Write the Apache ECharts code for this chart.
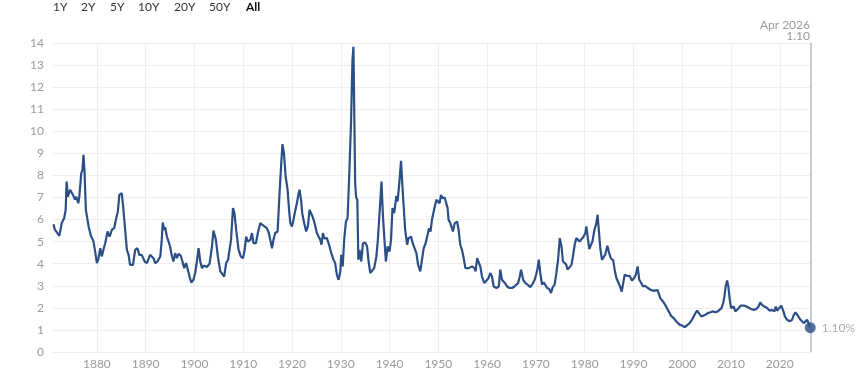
<!DOCTYPE html>
<html><head><meta charset="utf-8">
<script src="https://cdn.jsdelivr.net/npm/echarts@6/dist/echarts.min.js"></script>
<style>html,body{margin:0;padding:0;background:#fff}#c{width:864px;height:372px}</style>
</head><body><div id="c"></div>
<script>
const years = [1871.1,1871.4,1871.7,1872.3,1872.8,1873.3,1873.6,1873.8,1874.05,1874.5,1875.1,1875.5,1875.75,1876.2,1876.4,1876.8,1877.05,1877.25,1877.45,1877.75,1878.3,1878.8,1879.3,1879.65,1880.0,1880.3,1880.7,1881.0,1881.35,1881.7,1882.2,1882.6,1883.1,1883.55,1883.9,1884.3,1884.6,1884.9,1885.1,1885.45,1885.8,1886.15,1886.5,1886.8,1887.4,1887.85,1888.3,1888.7,1889.2,1889.8,1890.25,1890.45,1890.9,1891.3,1891.6,1891.95,1892.4,1893.0,1893.3,1893.5,1893.8,1894.0,1894.35,1894.7,1895.0,1895.4,1895.7,1896.05,1896.4,1896.75,1897.2,1897.55,1897.9,1898.3,1898.65,1899.0,1899.35,1899.8,1900.15,1900.5,1900.85,1901.2,1901.55,1901.9,1902.55,1903.1,1903.6,1903.9,1904.4,1904.8,1905.3,1905.7,1906.1,1906.5,1906.9,1907.5,1907.9,1908.2,1908.55,1909.05,1909.5,1909.95,1910.3,1910.6,1910.95,1911.45,1911.8,1912.1,1912.6,1913.0,1913.5,1913.95,1914.35,1914.85,1915.25,1915.55,1915.9,1916.2,1916.55,1917.05,1917.45,1917.8,1918.05,1918.35,1918.7,1919.1,1919.4,1919.65,1920.0,1920.3,1920.7,1921.0,1921.3,1921.55,1921.85,1922.1,1922.5,1922.9,1923.25,1923.6,1923.9,1924.2,1924.55,1924.8,1925.1,1925.45,1925.8,1926.05,1926.35,1926.6,1927.15,1927.6,1928.05,1928.5,1928.85,1929.2,1929.55,1929.9,1930.1,1930.4,1930.7,1931.05,1931.4,1931.75,1932.1,1932.4,1932.6,1932.75,1932.95,1933.15,1933.4,1933.6,1933.85,1934.2,1934.55,1935.0,1935.4,1935.7,1936.05,1936.4,1936.85,1937.3,1937.6,1937.95,1938.35,1938.65,1939.0,1939.25,1939.6,1940.0,1940.3,1940.6,1940.95,1941.4,1941.65,1942.0,1942.35,1942.6,1942.9,1943.2,1943.6,1943.9,1944.4,1944.75,1945.15,1945.5,1945.85,1946.3,1946.65,1947.0,1947.4,1947.7,1948.1,1948.4,1948.7,1949.2,1949.6,1949.95,1950.25,1950.55,1950.8,1951.3,1951.65,1951.9,1952.1,1952.45,1952.7,1953.0,1953.35,1953.85,1954.15,1954.5,1954.85,1955.2,1955.55,1955.9,1956.25,1956.55,1956.9,1957.4,1957.65,1957.95,1958.3,1958.6,1958.95,1959.45,1959.85,1960.3,1960.65,1961.0,1961.35,1961.9,1962.4,1962.7,1963.05,1963.55,1964.1,1964.6,1965.1,1965.6,1965.9,1966.35,1966.7,1966.95,1967.4,1967.85,1968.3,1968.85,1969.3,1969.75,1970.05,1970.35,1970.6,1970.9,1971.25,1971.6,1971.9,1972.3,1972.75,1973.1,1973.45,1973.85,1974.2,1974.55,1974.9,1975.25,1975.55,1975.85,1976.2,1976.5,1976.85,1977.3,1977.6,1977.95,1978.3,1978.6,1978.95,1979.3,1979.8,1980.15,1980.35,1980.65,1980.95,1981.3,1981.6,1982.0,1982.4,1982.65,1982.95,1983.2,1983.55,1983.9,1984.2,1984.65,1984.95,1985.35,1985.85,1986.15,1986.5,1986.85,1987.2,1987.6,1987.9,1988.2,1988.65,1989.2,1989.7,1990.15,1990.5,1990.85,1991.2,1991.55,1991.95,1992.4,1992.95,1993.5,1994.0,1994.35,1994.95,1995.5,1996.05,1996.5,1997.05,1997.45,1997.8,1998.25,1998.75,1999.1,1999.45,1999.95,2000.5,2000.95,2001.5,2002.0,2002.35,2002.7,2003.05,2003.4,2003.9,2004.3,2004.75,2005.25,2005.8,2006.3,2006.8,2007.3,2007.7,2008.05,2008.4,2008.65,2008.9,2009.2,2009.45,2009.75,2010.0,2010.35,2010.55,2010.9,2011.25,2011.6,2011.95,2012.35,2012.75,2013.2,2013.6,2014.1,2014.65,2015.2,2015.65,2016.0,2016.35,2016.85,2017.4,2017.95,2018.4,2018.9,2019.2,2019.45,2019.85,2020.3,2020.5,2020.75,2021.05,2021.5,2022.05,2022.5,2022.9,2023.2,2023.55,2023.9,2024.25,2024.6,2024.9,2025.25,2025.6,2026.25];
const yields = [5.79,5.54,5.6,5.26,5.84,6.07,6.44,7.72,7.04,7.35,7.12,6.9,7.04,6.74,7.04,8.1,8.25,8.93,8.25,6.44,5.69,5.26,5.01,4.55,4.03,4.2,4.7,4.33,4.63,4.93,5.46,5.23,5.54,5.61,5.99,6.37,7.12,7.04,7.2,6.44,5.54,4.63,4.4,3.95,3.95,4.63,4.7,4.4,4.4,4.1,4.03,3.95,4.4,4.48,4.25,4.03,4.1,4.33,5.08,5.87,5.54,5.65,5.23,5.0,4.78,4.33,4.1,4.48,4.25,4.45,4.36,4.1,3.8,4.03,3.73,3.42,3.15,3.27,3.58,4.1,4.7,4.1,3.8,3.92,3.85,4.0,4.78,5.5,5.08,4.33,3.65,3.58,3.42,4.03,4.18,5.08,6.52,6.29,5.54,4.63,4.33,4.25,4.63,5.23,5.0,5.08,5.39,4.93,4.93,5.39,5.84,5.76,5.8,5.61,5.39,5.08,4.7,5.08,5.39,5.46,7.2,8.56,9.42,9.01,7.95,7.35,6.44,5.84,5.69,5.99,6.44,6.74,7.12,7.35,6.9,6.29,5.84,5.46,5.69,6.44,6.52,6.14,5.91,5.99,5.39,5.23,5.08,4.86,5.39,5.15,5.16,4.86,4.48,4.18,4.03,3.5,3.27,3.65,4.4,3.88,5.08,5.91,6.07,8.1,10.37,13.23,13.83,11.12,7.65,7.0,6.9,4.18,4.63,4.1,4.93,4.96,4.78,4.1,3.58,3.5,3.8,4.33,5.08,6.29,7.72,6.14,4.93,4.1,4.78,4.55,5.08,6.52,6.29,7.07,6.82,7.65,8.66,7.65,6.59,5.54,4.86,5.16,5.23,4.93,4.86,4.48,3.95,3.65,4.18,4.7,4.93,4.86,5.61,5.46,5.99,6.52,6.9,6.82,6.74,7.12,6.97,7.0,7.04,6.52,5.99,5.84,5.91,5.46,5.84,5.91,5.54,4.86,4.63,4.25,3.8,3.73,3.8,3.73,3.88,3.8,3.65,4.25,4.3,3.88,3.42,3.12,3.05,3.35,3.58,3.42,2.97,2.9,2.97,3.73,3.27,3.15,2.97,2.9,2.9,2.97,2.9,3.12,3.42,3.73,3.27,3.12,3.05,2.94,3.08,3.27,3.5,3.8,4.18,3.58,3.05,3.15,3.05,2.9,2.85,2.67,2.94,3.05,3.58,4.18,5.16,4.78,4.1,4.18,3.97,3.73,3.65,3.95,4.33,4.86,5.16,5.1,5.01,5.08,5.23,5.39,5.69,5.16,4.66,4.63,5.01,5.54,5.84,6.22,5.39,4.7,4.18,4.2,4.4,4.81,4.55,4.25,4.15,3.73,3.35,3.4,3.0,2.74,3.12,3.5,3.45,3.45,3.24,3.35,3.5,3.88,3.27,3.15,2.97,3.0,2.9,2.82,2.77,2.85,2.8,2.44,2.29,2.14,1.91,1.84,1.61,1.54,1.39,1.46,1.24,1.2,1.13,1.2,1.31,1.46,1.46,1.76,1.87,1.84,1.61,1.54,1.69,1.76,1.8,1.84,1.8,1.84,1.76,1.99,2.22,2.52,2.97,3.24,2.97,2.37,1.99,1.91,2.06,1.84,1.8,1.99,2.1,2.03,2.1,2.06,1.99,1.95,1.91,1.95,2.06,2.25,2.14,2.06,1.99,1.87,1.91,1.84,2.06,1.87,1.95,2.1,2.17,1.84,1.61,1.46,1.39,1.46,1.69,1.8,1.69,1.61,1.46,1.39,1.31,1.39,1.46,1.10];
const xTickLabels = [1880,1890,1900,1910,1920,1930,1940,1950,1960,1970,1980,1990,2000,2010,2020];
const rangeButtons = ['1Y','2Y','5Y','10Y','20Y','50Y','All'];
const lastDateLabel = 'Apr 2026';

const FONT = 'Lato, "Open Sans", sans-serif';
const LINE = '#2b4f86';
const points = years.map((y, i) => [y, yields[i]]);
const last = points[points.length - 1];

const btnX = [53, 81, 110, 138, 174, 209, 246];
const graphic = rangeButtons.map((t, i) => ({
  type: 'text', left: btnX[i], top: 1,
  style: { text: t, fill: t === 'All' ? '#111' : '#333', font: (t === 'All' ? 'bold ' : '') + '12px ' + FONT }
}));
graphic.push({ type: 'text', right: 54, top: 19, style: { text: lastDateLabel, fill: '#999', font: '12px ' + FONT, align: 'right' } });
graphic.push({ type: 'text', right: 54, top: 30, style: { text: last[1].toFixed(2), fill: '#999', font: '12px ' + FONT, align: 'right' } });

const chart = echarts.init(document.getElementById('c'), null, { renderer: 'canvas' });
chart.setOption({
  animation: false,
  backgroundColor: '#fff',
  textStyle: { fontFamily: FONT },
  graphic: graphic,
  grid: { left: 52, right: 53, top: 43, bottom: 20, containLabel: false },
  xAxis: {
    type: 'value', min: 1870.8, max: 2026.4,
    axisLine: { show: false },
    axisTick: { show: false, customValues: xTickLabels },
    axisLabel: { customValues: xTickLabels, color: '#9a9a9a', fontSize: 12, margin: 6, fontFamily: FONT,
      formatter: v => String(Math.round(v)) },
    splitLine: { show: true, lineStyle: { color: '#eeeeee', width: 1 } }
  },
  yAxis: {
    type: 'value', min: 0, max: 14, interval: 1,
    axisLine: { show: false }, axisTick: { show: false },
    axisLabel: { color: '#9a9a9a', fontSize: 12, margin: 8, fontFamily: FONT },
    splitLine: { show: true, lineStyle: { color: '#eeeeee', width: 1 } }
  },
  series: [
    {
      type: 'line', data: points, showSymbol: false, smooth: false,
      lineStyle: { color: LINE, width: 2.2 },
      itemStyle: { color: LINE },
      markLine: {
        silent: true, symbol: 'none', animation: false,
        label: { show: false },
        lineStyle: { color: '#b5bdca', width: 1.5, type: 'solid' },
        data: [{ xAxis: last[0] }]
      }
    },
    {
      type: 'scatter', data: [last], symbolSize: 11,
      itemStyle: { color: LINE },
      label: { show: true, position: 'right', distance: 6, color: '#999', fontSize: 12, fontFamily: FONT,
        formatter: p => p.value[1].toFixed(2) + '%' },
      z: 5
    }
  ]
});
</script>
</body></html>
